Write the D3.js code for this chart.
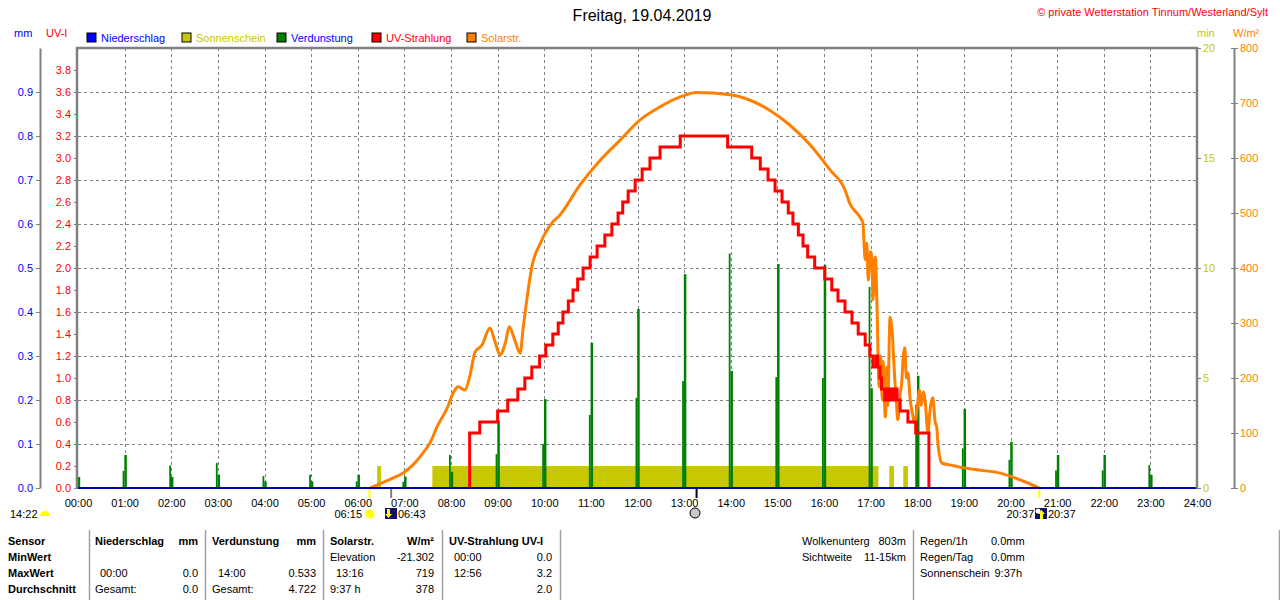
<!DOCTYPE html>
<html>
<head>
<meta charset="utf-8">
<script src="https://cdn.jsdelivr.net/npm/d3@7"></script>
<style>
  body { margin: 0; background: #fff; }
  svg { display: block; font-family: "Liberation Sans", Arial, sans-serif; }
</style>
</head>
<body>
<svg id="chart" width="1280" height="600"></svg>
<script>
// ---- data ----
let hours = d3.range(0, 25);

// UV-Strahlung (UV-I), step values
let uvTimes = ["08:24","08:37","09:00","09:13","09:26","09:35","09:44","09:54","10:02","10:11","10:18","10:24","10:31","10:37","10:43","10:50","10:59","11:08","11:18","11:27","11:35","11:41","11:48","11:57","12:06","12:16","12:29","12:55","13:56","14:27","14:38","14:48","14:57","15:06","15:14","15:20","15:27","15:33","15:39","15:48","16:01","16:10","16:18","16:27","16:36","16:44","16:53","16:59","17:03","17:07","17:09","17:12","17:14","17:18","17:21","17:23","17:26","17:29","17:31","17:34","17:38","17:48","17:58","18:15"];
let uvValues = [0.5,0.6,0.7,0.8,0.9,1.0,1.1,1.2,1.3,1.4,1.5,1.6,1.7,1.8,1.9,2.0,2.1,2.2,2.3,2.4,2.5,2.6,2.7,2.8,2.9,3.0,3.1,3.2,3.1,3.0,2.9,2.8,2.7,2.6,2.5,2.4,2.3,2.2,2.1,2.0,1.9,1.8,1.7,1.6,1.5,1.4,1.3,1.2,1.1,1.2,1.1,1.0,0.9,0.8,0.9,0.8,0.9,0.8,0.9,0.8,0.7,0.6,0.5,0.0];

// Solarstrahlung W/m²
let solarTimes = ["06:16","06:29","06:45","06:58","07:11","07:24","07:33","07:42","07:55","08:03","08:09","08:18","08:24","08:31","08:40","08:50","08:57","09:03","09:10","09:15","09:22","09:29","09:33","09:38","09:44","09:55","10:10","10:20","10:46","11:12","11:38","12:03","12:29","12:55","13:16","13:59","14:25","14:50","15:16","15:42","16:08","16:27","16:33","16:46","16:50","16:53","16:55","16:57","17:00","17:02","17:03","17:06","17:08","17:11","17:13","17:15","17:16","17:19","17:21","17:22","17:25","17:28","17:29","17:31","17:33","17:35","17:38","17:40","17:42","17:44","17:46","17:48","17:51","17:53","17:57","18:00","18:03","18:05","18:08","18:10","18:14","18:16","18:20","18:23","18:25","18:27","18:32","18:42","18:55","19:17","19:47","20:12","20:37"];
let solarValues = [0,8,18,27,42,64,82,111,145,173,184,178,202,247,260,291,264,242,264,293,269,245,293,347,402,445,482,496,551,596,633,669,693,711,719,715,705,687,660,624,578,542,518,493,482,415,445,378,430,415,342,420,342,184,240,160,230,129,220,150,311,280,251,200,160,124,170,191,240,255,200,209,160,142,118,147,178,150,175,160,100,136,164,120,111,75,45,42,38,33,27,15,0];

// Verdunstung mm per hour (two half-bars at each hour)
let evapLeft  = [0.051,0.039,0.051,0.057,0.027,0.030,0.015,0.014,0.075,0.077,0.100,0.166,0.205,0.243,0.533,0.252,0.250,0.457,0.190,0.090,0.064,0.040,0.040,0.052];
let evapRight = [0.025,0.075,0.025,0.030,0.015,0.015,0.030,0.026,0.037,0.153,0.202,0.330,0.407,0.486,0.266,0.509,0.507,0.227,0.255,0.180,0.105,0.075,0.075,0.030];

// Sonnenschein (min)
let sunStart = ["06:25","07:36","17:24","17:42"];
let sunEnd   = ["06:30","17:10","17:30","17:48"];
let sunValue = [1,1,1,1];

// tick labels
let mmTicks = d3.range(0, 10).map(i => i / 10);
let uvTicks = d3.range(0, 20).map(i => i / 5);
let minTicks = [0, 5, 10, 15, 20];
let minMinor = [2, 4, 6, 8, 12, 14, 16, 18];
let wTicks = d3.range(0, 9).map(i => i * 100);

let legendNames  = ["Niederschlag","Sonnenschein","Verdunstung","UV-Strahlung","Solarstr."];
let legendFills  = ["#0000ff","#c8c800","#008000","#ff0000","#ff8000"];
let legendTexts  = ["#0000ff","#c8c800","#0000ff","#ff0000","#ff8000"];

let tableRows = ["Sensor","MinWert","MaxWert","Durchschnitt"];

// ---- helpers ----
let t = s => { let p = s.split(":").map(Number); return p[0] + p[1] / 60; };

let svg = d3.select("#chart");
let margin = {left: 78, right: 1197, top: 48, bottom: 488};
let gray = "#808080";
let small = 11;

let x = d3.scaleLinear().domain([0, 24]).range([margin.left, margin.right]);
let yUV = d3.scaleLinear().domain([0, 4]).range([margin.bottom, margin.top]);
let yMM = d3.scaleLinear().domain([0, 1]).range([margin.bottom, margin.top]);
let yMin = d3.scaleLinear().domain([0, 20]).range([margin.bottom, margin.top]);
let yW = d3.scaleLinear().domain([0, 800]).range([margin.bottom, margin.top]);

// ---- title ----
svg.append("text").attr("x", 642).attr("y", 21).attr("text-anchor", "middle")
    .attr("font-size", 16).attr("fill", "#000").text("Freitag, 19.04.2019");
svg.append("text").attr("x", 1268).attr("y", 16).attr("text-anchor", "end")
    .attr("font-size", small).attr("fill", "#ff0000").text("\u00A9 private Wetterstation Tinnum/Westerland/Sylt");

// unit labels
svg.append("text").attr("x", 14).attr("y", 37).attr("font-size", small).attr("fill", "#0000ff").text("mm");
svg.append("text").attr("x", 46).attr("y", 37).attr("font-size", small).attr("fill", "#ff0000").text("UV-I");
svg.append("text").attr("x", 1197).attr("y", 37).attr("font-size", small).attr("fill", "#c8c800").text("min");
svg.append("text").attr("x", 1233).attr("y", 37).attr("font-size", small).attr("fill", "#ff8000").text("W/m\u00B2");

// legend
let legend = svg.selectAll("g.legend").data(legendNames).enter().append("g")
    .attr("class", "legend")
    .attr("transform", (d, i) => `translate(${87 + i * 95},33)`);
legend.append("rect").attr("width", 9).attr("height", 9)
    .attr("fill", (d, i) => legendFills[i]).attr("stroke", "#000").attr("stroke-width", 1);
legend.append("text").attr("x", 14).attr("y", 9).attr("font-size", small)
    .attr("fill", (d, i) => legendTexts[i]).text(d => d);

// ---- grid ----
let grid = svg.append("g").attr("stroke", gray).attr("stroke-dasharray", "3,3").attr("stroke-width", 1);
grid.selectAll("line.h").data(d3.range(1, 10).map(i => i * 0.4)).enter().append("line")
    .attr("x1", margin.left).attr("x2", margin.right)
    .attr("y1", d => Math.round(yUV(d)) + 0.5).attr("y2", d => Math.round(yUV(d)) + 0.5);
grid.selectAll("line.v").data(d3.range(1, 24)).enter().append("line")
    .attr("y1", margin.top).attr("y2", margin.bottom)
    .attr("x1", d => Math.round(x(d)) + 0.5).attr("x2", d => Math.round(x(d)) + 0.5);

// ---- sunshine ----
svg.append("g").selectAll("rect").data(sunStart).enter().append("rect")
    .attr("x", (d, i) => x(t(d)))
    .attr("width", (d, i) => x(t(sunEnd[i])) - x(t(d)))
    .attr("y", (d, i) => yMin(sunValue[i]))
    .attr("height", (d, i) => yMin(0) - yMin(sunValue[i]))
    .attr("fill", "#c8c800");

// ---- evaporation ----
let evap = svg.append("g").attr("fill", "#008000");
evap.selectAll("rect.l").data(evapLeft).enter().append("rect")
    .attr("x", (d, i) => x(i) - 2).attr("width", 1.8)
    .attr("y", d => yMM(d)).attr("height", d => yMM(0) - yMM(d));
evap.selectAll("rect.r").data(evapRight).enter().append("rect")
    .attr("x", (d, i) => x(i) - 0.3).attr("width", 2.5)
    .attr("y", d => yMM(d)).attr("height", d => yMM(0) - yMM(d));

// ---- solar radiation ----
let solarLine = d3.line().curve(d3.curveMonotoneX).x(d => x(t(d[0]))).y(d => yW(d[1]));
svg.append("path").datum(solarTimes.map((s, i) => [s, solarValues[i]]))
    .attr("d", solarLine).attr("fill", "none").attr("stroke", "#ff8000")
    .attr("stroke-width", 3);

// ---- UV ----
let uvLine = d3.line().curve(d3.curveStepAfter).x(d => x(t(d[0]))).y(d => yUV(d[1]));
let uvData = [["08:24", 0]].concat(uvTimes.map((s, i) => [s, uvValues[i]]));
svg.append("path").datum(uvData)
    .attr("d", uvLine).attr("fill", "none").attr("stroke", "#ff0000")
    .attr("stroke-width", 3);

// ---- precipitation baseline ----
svg.append("line").attr("x1", margin.left).attr("x2", margin.right)
    .attr("y1", yMM(0)).attr("y2", yMM(0))
    .attr("stroke", "#0000b0").attr("stroke-width", 2);

// ---- axes ----
function styleAxis(g, color) {
    g.attr("font-size", small).attr("font-family", null);
    g.selectAll(".tick line").attr("stroke", gray);
    g.selectAll(".tick text").attr("fill", color);
    g.select(".domain").attr("stroke", gray).attr("stroke-width", 2);
}

svg.append("g").attr("transform", `translate(40,0)`)
    .call(d3.axisLeft(yMM).tickValues(mmTicks).tickFormat(d3.format(".1f")).tickSize(4).tickPadding(3).tickSizeOuter(0))
    .call(g => styleAxis(g, "#0000ff"));

svg.append("g").attr("transform", `translate(${margin.left},0)`)
    .call(d3.axisLeft(yUV).tickValues(uvTicks).tickFormat(d3.format(".1f")).tickSize(4).tickPadding(3).tickSizeOuter(0))
    .call(g => styleAxis(g, "#ff0000"))
    .call(g => g.select(".domain").remove());

svg.append("g").attr("transform", `translate(${margin.right},0)`)
    .call(d3.axisRight(yMin).tickValues(minTicks).tickSize(4).tickPadding(2).tickSizeOuter(0))
    .call(g => styleAxis(g, "#c8c800"))
    .call(g => g.select(".domain").remove())
    .call(g => g.selectAll("line.minor").data(minMinor).enter().append("line")
        .attr("class", "minor").attr("stroke", gray)
        .attr("x1", -4).attr("x2", 0).attr("y1", d => yMin(d) + 0.5).attr("y2", d => yMin(d) + 0.5));

svg.append("g").attr("transform", `translate(1234,0)`)
    .call(d3.axisRight(yW).tickValues(wTicks).tickSize(4).tickPadding(2).tickSizeOuter(0))
    .call(g => styleAxis(g, "#ff8000"))
    .call(g => g.selectAll(".tick").append("line").attr("x1", -3).attr("x2", 0).attr("stroke", gray));

svg.append("g").attr("transform", `translate(0,${margin.bottom})`)
    .call(d3.axisBottom(x).tickValues(hours).tickFormat(d => d3.format("02d")(d) + ":00").tickSize(0).tickPadding(11))
    .call(g => styleAxis(g, "#000"))
    .call(g => g.select(".domain").remove());

// frame
let frame = svg.append("g").attr("stroke", gray).attr("stroke-width", 2.5).attr("fill", "none");
frame.append("path").attr("d", `M${margin.left - 1},${margin.bottom}V${margin.top}H${margin.right}V${margin.bottom + 1}`);

// ---- sun / moon markers under the axis ----
let markTimes  = ["06:15","06:43","13:16","20:37"];
let markColors = ["#ffff00", gray, "#000", "#ffff00"];
svg.selectAll("line.mark").data(markTimes).enter().append("line")
    .attr("x1", d => x(t(d))).attr("x2", d => x(t(d)))
    .attr("y1", margin.bottom + 1).attr("y2", margin.bottom + 10)
    .attr("stroke", (d, i) => markColors[i]).attr("stroke-width", 2);

svg.append("text").attr("x", 10).attr("y", 518).attr("font-size", small).text("14:22");
svg.append("path").attr("d", d3.arc()({innerRadius: 0, outerRadius: 5, startAngle: -Math.PI / 2, endAngle: Math.PI / 2}))
    .attr("transform", "translate(45,516)").attr("fill", "#ffff00");

svg.append("text").attr("x", 362).attr("y", 518).attr("text-anchor", "end").attr("font-size", small).text("06:15");
let sun = svg.append("g").attr("transform", "translate(370,514)");
sun.selectAll("line").data(d3.range(8)).enter().append("line")
    .attr("x1", d => 4 * Math.cos(d * Math.PI / 4)).attr("y1", d => 4 * Math.sin(d * Math.PI / 4))
    .attr("x2", d => 6.5 * Math.cos(d * Math.PI / 4)).attr("y2", d => 6.5 * Math.sin(d * Math.PI / 4))
    .attr("stroke", "#ffff60").attr("stroke-width", 1);
sun.append("circle").attr("r", 4).attr("fill", "#ffff00");

let rise = svg.append("g").attr("transform", "translate(385,508)");
rise.append("rect").attr("width", 12).attr("height", 11).attr("fill", "#10106a");
rise.append("path").attr("d", "M2,1H5V6H7L3.5,10L0,6H2Z").attr("fill", "#ffff00");
svg.append("text").attr("x", 398).attr("y", 518).attr("font-size", small).text("06:43");

svg.append("circle").attr("cx", 695).attr("cy", 513).attr("r", 5)
    .attr("fill", "#c8c8c8").attr("stroke", "#000").attr("stroke-width", 1);

svg.append("text").attr("x", 1034).attr("y", 518).attr("text-anchor", "end").attr("font-size", small).text("20:37");
let set = svg.append("g").attr("transform", "translate(1035,508)");
set.append("rect").attr("width", 12).attr("height", 11).attr("fill", "#10106a");
set.append("circle").attr("cx", 3).attr("cy", 3).attr("r", 2.5).attr("fill", "#fff");
set.append("path").attr("d", "M5,11V6H3L6.5,2L10,6H8V11Z").attr("fill", "#ffff00");
svg.append("text").attr("x", 1048).attr("y", 518).attr("font-size", small).text("20:37");

// ---- table ----
let tbl = svg.append("g").attr("font-size", small);
let rowY = [545, 561, 577, 593];
tbl.selectAll("text.row").data(tableRows).enter().append("text")
    .attr("x", 8).attr("y", (d, i) => rowY[i]).attr("font-weight", "bold").text(d => d);

let sepX = [89, 205, 323, 442, 560, 913, 1279];
tbl.selectAll("line.sep").data(sepX).enter().append("line")
    .attr("x1", d => d + 0.5).attr("x2", d => d + 0.5).attr("y1", 530).attr("y2", 600)
    .attr("stroke", "#a0a0a0").attr("stroke-width", 1.5);

// [x, row, text, anchor, bold]
let cells = [
    [95, 0, "Niederschlag", "start", true], [198, 0, "mm", "end", true],
    [100, 2, "00:00", "start"], [198, 2, "0.0", "end"],
    [95, 3, "Gesamt:", "start"], [198, 3, "0.0", "end"],
    [212, 0, "Verdunstung", "start", true], [316, 0, "mm", "end", true],
    [218, 2, "14:00", "start"], [316, 2, "0.533", "end"],
    [212, 3, "Gesamt:", "start"], [316, 3, "4.722", "end"],
    [330, 0, "Solarstr.", "start", true], [434, 0, "W/m\u00B2", "end", true],
    [330, 1, "Elevation", "start"], [434, 1, "-21.302", "end"],
    [336, 2, "13:16", "start"], [434, 2, "719", "end"],
    [330, 3, "9:37 h", "start"], [434, 3, "378", "end"],
    [449, 0, "UV-Strahlung UV-I", "start", true],
    [454, 1, "00:00", "start"], [552, 1, "0.0", "end"],
    [454, 2, "12:56", "start"], [552, 2, "3.2", "end"],
    [552, 3, "2.0", "end"],
    [802, 0, "Wolkenunterg", "start"], [906, 0, "803m", "end"],
    [802, 1, "Sichtweite", "start"], [906, 1, "11-15km", "end"],
    [920, 0, "Regen/1h", "start"], [991, 0, "0.0mm", "start"],
    [920, 1, "Regen/Tag", "start"], [991, 1, "0.0mm", "start"],
    [920, 2, "Sonnenschein", "start"], [1022, 2, "9:37h", "end"]
];
tbl.selectAll("text.cell").data(cells).enter().append("text")
    .attr("x", d => d[0]).attr("y", d => rowY[d[1]])
    .attr("text-anchor", d => d[3]).attr("font-weight", d => d[4] ? "bold" : null)
    .text(d => d[2]);
</script>
</body>
</html>
